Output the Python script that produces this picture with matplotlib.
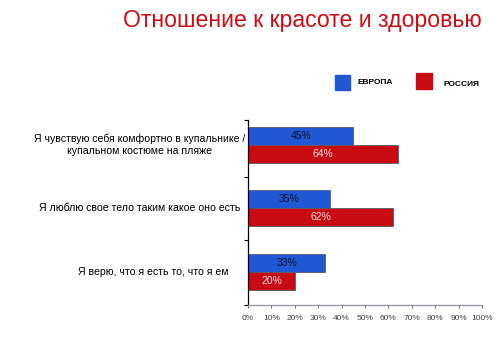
"""
горизонтальная диаграмма: отношение к красоте и здоровью (Европа / Россия)
"""

import matplotlib.pyplot as plt
import numpy as np

plt.rcParams['font.family'] = ['Liberation Sans', 'DejaVu Sans']

# данные
categories = ['Я чувствую себя комфортно в купальнике /\nкупальном костюме на пляже',
              'Я люблю свое тело таким какое оно есть',
              'Я верю, что я есть то, что я ем']
europe = [45, 35, 33]
russia = [64, 62, 20]
x_ticks = [0, 10, 20, 30, 40, 50, 60, 70, 80, 90, 100]

blue = '#1f58d2'
red = '#c80a12'

fig = plt.figure(figsize=(5, 3.5), dpi=100)
ax = fig.add_axes([0.496, 0.129, 0.468, 0.528])

y = np.arange(len(categories))
h = 0.283
b1 = ax.barh(y - h / 2, europe, height=h, color=blue, edgecolor='#5a5a6a', linewidth=0.6)
b2 = ax.barh(y + h / 2, russia, height=h, color=red, edgecolor='#5a5a6a', linewidth=0.6)

# подписи значений внутри столбиков
for rect, v in zip(b1, europe):
    ax.text(v / 2, rect.get_y() + rect.get_height() / 2, f'{v}%', ha='center', va='center',
            fontsize=7.5, color='#111133')
for rect, v in zip(b2, russia):
    ax.text(v / 2, rect.get_y() + rect.get_height() / 2, f'{v}%', ha='center', va='center',
            fontsize=7.5, color='#f4dede')

ax.set_xlim(0, 100)
ax.set_ylim(2.52, -0.39)
ax.set_xticks(x_ticks)
ax.set_xticklabels([f'{t}%' for t in x_ticks], fontsize=6, color='#444444')
ax.tick_params(axis='x', length=2.5, width=0.6, color='#555577', pad=5)

# подписи категорий по центру слева от оси
ax.set_yticks([-0.39, 0.5, 1.5, 2.52])
ax.set_yticklabels([])
ax.tick_params(axis='y', length=3, width=0.8, color='black')
label_x = [-0.462, -0.462, -0.405]
for yi, lx, cat in zip(y, label_x, categories):
    ax.text(lx, yi, cat, transform=ax.get_yaxis_transform(), ha='center', va='center',
            fontsize=7.6, color='black', linespacing=1.3)

for s in ['top', 'right']:
    ax.spines[s].set_visible(False)
ax.spines['left'].set_linewidth(0.9)
ax.spines['bottom'].set_color('#9a9aa6')
ax.spines['bottom'].set_linewidth(1.0)

# заголовок
fig.text(0.605, 0.94, 'Отношение к красоте и здоровью', ha='center', va='center',
         fontsize=16.6, color='#cc0d12')

# легенда
fig.patches.append(plt.Rectangle((335 / 500, 1 - 90 / 350), 15 / 500, 15 / 350,
                                 transform=fig.transFigure, color=blue))
fig.text(357 / 500, 1 - 83 / 350, 'ЕВРОПА', fontsize=6, fontweight='bold', va='center')
fig.patches.append(plt.Rectangle((416 / 500, 1 - 89 / 350), 16 / 500, 16 / 350,
                                 transform=fig.transFigure, color=red))
fig.text(444 / 500, 1 - 85 / 350, 'РОССИЯ', fontsize=6, fontweight='bold', va='center')

fig.savefig('out.png', dpi=100)
